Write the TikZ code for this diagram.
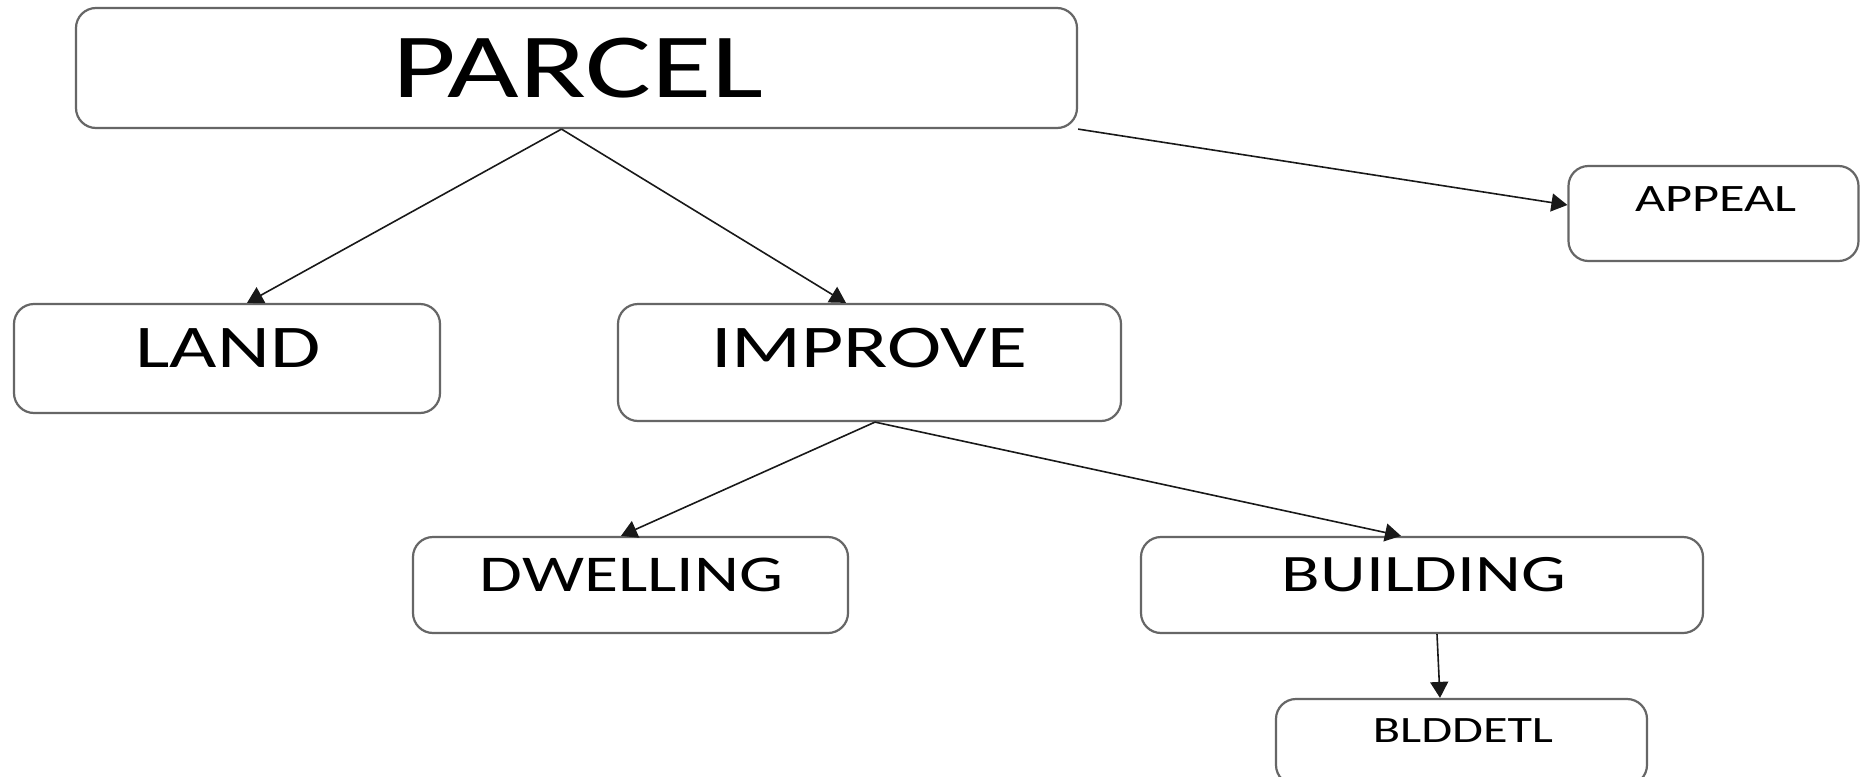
\documentclass[tikz,border=0pt]{standalone}
\usepackage{fontspec}
\setmainfont{Carlito}
\newfontfamily\boxfont[FakeStretch=1.35]{Carlito}
\usetikzlibrary{arrows.meta,calc}
\begin{document}
\begin{tikzpicture}[x=0.5pt,y=-0.5pt,
  box/.style={draw=black!60, line width=1.1pt, rounded corners=10pt, inner sep=0pt},
  lbl/.style={inner sep=0pt, font=\boxfont},
  conn/.style={draw=black!90, line width=0.8pt, -{Triangle[length=8pt,width=9pt]}}]
\useasboundingbox[fill=white] (0,0) rectangle (1860,777);
% boxes
\node[box, minimum width=500.5pt, minimum height=60pt] (parcel) at (576.5,68) {};
\node[box, minimum width=145pt, minimum height=47.5pt] (appeal) at (1713.5,213.5) {};
\node[box, minimum width=213pt, minimum height=54.5pt] (land) at (227,358.5) {};
\node[box, minimum width=251.5pt, minimum height=58.5pt] (improve) at (869.5,362.5) {};
\node[box, minimum width=217.5pt, minimum height=48pt] (dwelling) at (630.5,585) {};
\node[box, minimum width=281pt, minimum height=48pt] (building) at (1422,585) {};
\node[box, minimum width=185.5pt, minimum height=43pt] (blddetl) at (1461.5,742) {};
% texts
\node[lbl, font=\boxfont\fontsize{45.8}{50}\selectfont] (tparcel) at (578,68) {PARCEL};
\node[lbl, font=\boxfont\fontsize{19.4}{22}\selectfont] (tappeal) at (1716,199) {APPEAL};
\node[lbl, font=\boxfont\fontsize{30.3}{34}\selectfont] (tland) at (228,348) {LAND};
\node[lbl, font=\boxfont\fontsize{30.3}{34}\selectfont] (timprove) at (869,348) {IMPROVE};
\node[lbl, font=\boxfont\fontsize{25.8}{29}\selectfont] (tdwelling) at (631.5,575) {DWELLING};
\node[lbl, font=\boxfont\fontsize{26.3}{29}\selectfont] (tbuilding) at (1424,575) {BUILDING};
\node[lbl, font=\boxfont\fontsize{18.6}{21}\selectfont] (tbld) at (1463,731) {BLDDETL};
% connectors
\draw[conn] ([xshift=-7.5pt]parcel.south) -- ([xshift=10pt]land.north);
\draw[conn] ([xshift=-7.5pt]parcel.south) -- ([xshift=-11.75pt]improve.north);
\draw[conn] (parcel.south east) -- ([yshift=4.25pt]appeal.west);
\draw[conn] ([xshift=2.75pt]improve.south) -- ([xshift=-4.75pt]dwelling.north);
\draw[conn] ([xshift=2.75pt]improve.south) -- ([xshift=-10.5pt]building.north);
\draw[conn] ([xshift=7.5pt]building.south) -- ([xshift=-10.75pt]blddetl.north);
\end{tikzpicture}
\end{document}
